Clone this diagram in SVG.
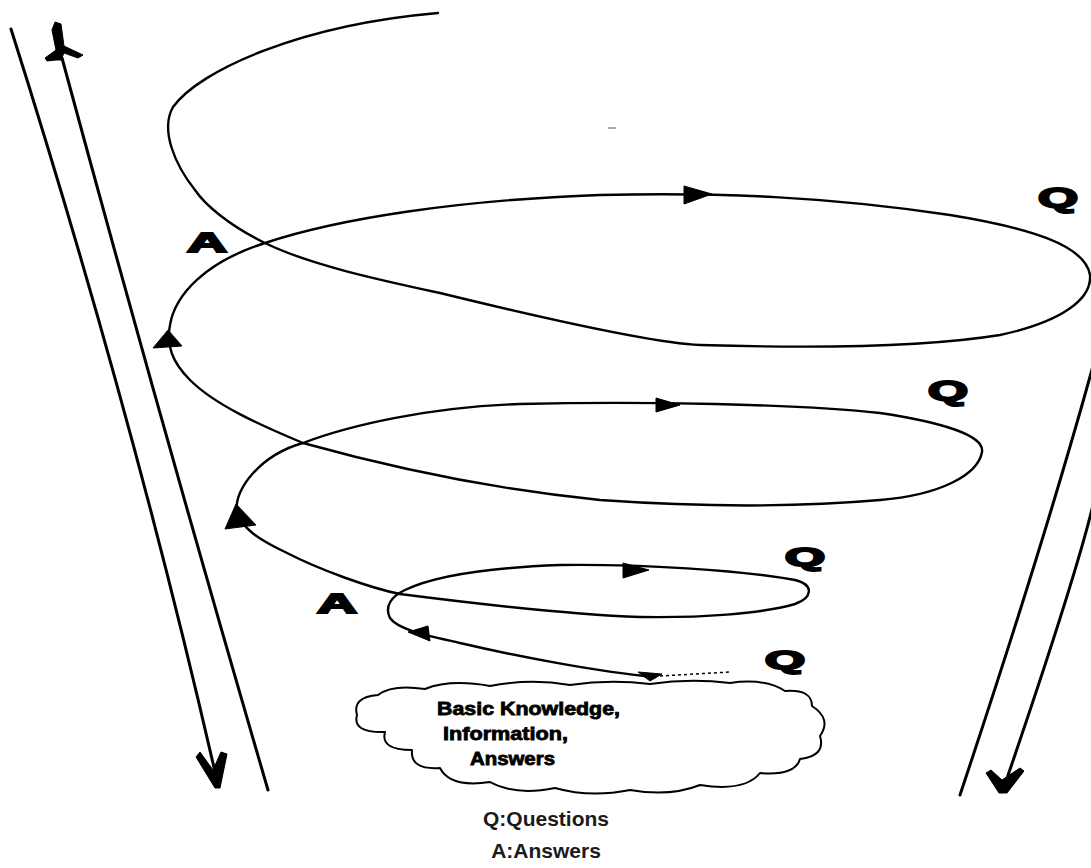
<svg xmlns="http://www.w3.org/2000/svg" width="1091" height="868" viewBox="0 0 1091 868">
<style>
.ln{fill:none;stroke:#000;stroke-width:3;stroke-linecap:round}
.sp{fill:none;stroke:#000;stroke-width:2.4;stroke-linecap:round;stroke-linejoin:round}
.ah{fill:#000;stroke:#000;stroke-width:1;stroke-linejoin:round}
.lbl{font-family:"Liberation Sans",Arial,sans-serif;font-weight:bold;fill:#000;stroke:#000;stroke-width:2}
.ct{font-family:"Liberation Sans",Arial,sans-serif;font-weight:bold;font-size:18px;fill:#000;stroke:#000;stroke-width:0.8}
.lg{font-family:"Liberation Sans",Arial,sans-serif;font-weight:bold;font-size:21px;fill:#1a1a1a;text-anchor:middle}
</style>
<rect width="1091" height="868" fill="#fff"/>
<g id="funnel">
<path class="ln" d="M11,29 Q135,420 218,785"/>
<path class="ln" d="M62,58 Q160,420 268,790"/>
<path class="ln" d="M1093,366 Q1045,540 960,795"/>
<path class="ln" d="M1093,505 Q1075,580 1003,790"/>
<path class="ah" d="M55,22 L61,24 L64,46 L83,55 L78,58 L64,53 L61,60 L56,60 L47,61 L45,58 L56,50 L52,30 Z"/>
<path class="ah" d="M196,757 L200,752 L213,770 L221,752 L227,754 L220,788 L215,788 Z"/>
<path class="ah" d="M986,773 L991,770 L1002,780 L1020,768 L1024,771 L1007,793 L999,793 Z"/>
</g>
<g id="connectors">
<path class="sp" d="M655,677 C600,672 520,657 460,643 C430,636 398,630 390,618 C384,606 392,596 405,590 C430,578 480,568 560,565 C640,564 740,570 795,580 C815,585 812,598 795,604 C760,614 700,618 640,617 C560,614 470,603 400,594 C370,588 320,570 285,552 C260,540 240,528 237,510 C234,490 260,455 303,443 C350,425 430,407 520,404 C640,401 800,404 880,413 C940,422 985,435 982,452 C978,475 940,495 880,500 C800,507 700,507 600,500 C500,490 400,470 303,443 C260,425 215,405 190,380 C172,362 166,345 170,325 C175,295 205,262 265,243 C340,218 460,200 600,195 C720,192 830,197 950,215 C1030,228 1085,245 1090,275 C1092,300 1060,322 1000,335 C920,348 800,348 700,345 C650,343 530,315 440,293 C380,280 310,265 265,243 C230,226 205,205 195,190 C175,165 160,130 173,107 C200,70 300,25 438,13"/>
<path d="M660,676 L730,672" fill="none" stroke="#000" stroke-width="1.5" stroke-dasharray="3 3"/>
<path d="M608,128 L616,128" fill="none" stroke="#555" stroke-width="1"/>
<polygon class="ah" points="712,194 684,186 684,204"/>
<polygon class="ah" points="680,405 656,398 656,412"/>
<polygon class="ah" points="649,570 623,563 623,578"/>
<polygon class="ah" points="168,330 153,348 182,346"/>
<polygon class="ah" points="236,504 225,529 256,525"/>
<polygon class="ah" points="408,632 428,626 430,641"/>
<polygon class="ah" points="638,672 662,674 650,681"/>
</g>
<g id="labels">
<text class="lbl" x="187" y="252" font-size="28" textLength="40" lengthAdjust="spacingAndGlyphs">A</text>
<text class="lbl" x="317" y="613" font-size="28" textLength="40" lengthAdjust="spacingAndGlyphs">A</text>
<text class="lbl" x="1038" y="207" font-size="28" textLength="40" lengthAdjust="spacingAndGlyphs">Q</text>
<text class="lbl" x="928" y="400" font-size="27" textLength="40" lengthAdjust="spacingAndGlyphs">Q</text>
<text class="lbl" x="785" y="566" font-size="25" textLength="40" lengthAdjust="spacingAndGlyphs">Q</text>
<text class="lbl" x="765" y="669" font-size="25" textLength="40" lengthAdjust="spacingAndGlyphs">Q</text>
</g>
<g id="cloud">
<path fill="#fff" stroke="#000" stroke-width="2" stroke-linejoin="round" d="M357,715 Q352,697 378,695 Q392,684 425,689 Q450,679 490,686 Q530,678 570,685 Q610,679 650,684 Q690,678 730,683 Q765,678 785,691 Q812,689 812,706 Q832,719 820,736 Q826,756 800,759 Q795,776 760,773 Q745,792 700,785 Q670,797 630,790 Q590,798 555,788 Q515,796 490,782 Q450,788 440,768 Q410,770 412,750 Q380,750 385,732 Q352,733 357,715 Z"/>
<text class="ct" x="437" y="715" textLength="183" lengthAdjust="spacingAndGlyphs">Basic Knowledge,</text>
<text class="ct" x="443" y="740" textLength="125" lengthAdjust="spacingAndGlyphs">Information,</text>
<text class="ct" x="470" y="765" textLength="85" lengthAdjust="spacingAndGlyphs">Answers</text>
</g>
<g id="legend">
<text class="lg" x="546" y="826">Q:Questions</text>
<text class="lg" x="546" y="858">A:Answers</text>
</g>
</svg>
